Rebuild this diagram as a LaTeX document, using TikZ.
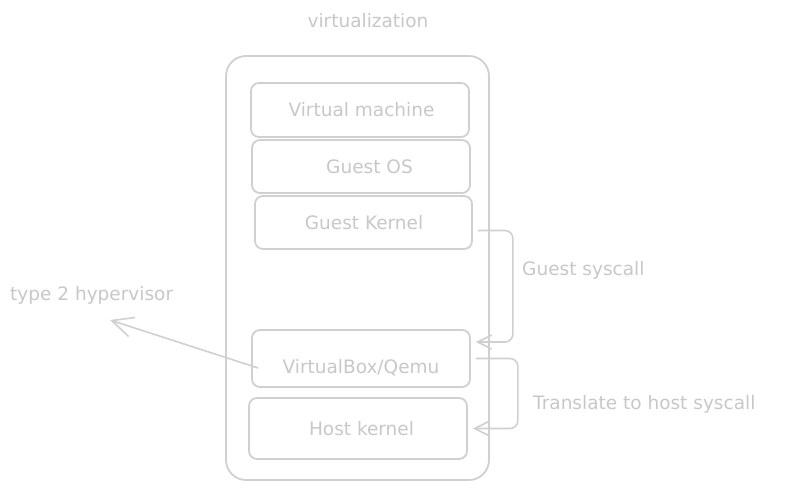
\documentclass[tikz,border=0pt]{standalone}
\usepackage{fontspec}
\setmainfont{DejaVu Sans}
\usetikzlibrary{arrows.meta,calc}
\definecolor{ln}{HTML}{D0D0D0}
\definecolor{tx}{HTML}{C8C8C8}
\begin{document}
\begin{tikzpicture}[x=1pt,y=-1pt,
  box/.style={draw=ln,line width=1.8pt,rounded corners=8pt,inner sep=0pt,text=tx,font=\fontsize{18.5}{21}\selectfont},
  lbl/.style={text=tx,font=\fontsize{18.5}{21}\selectfont,inner sep=0pt},
  arr/.style={draw=ln,line width=1.6pt,rounded corners=8pt,-{Straight Barb[length=14pt,width=14pt,line width=1.6pt]}},
  bigarr/.style={draw=ln,line width=1.6pt,-{Straight Barb[length=21pt,width=20pt,line width=1.6pt]}}]
\useasboundingbox[fill=white] (0,0) rectangle (791,490);
\node[lbl] (title) at (368,21) {virtualization};
\draw[draw=ln,line width=1.8pt,rounded corners=20pt] (226,56) rectangle (489,480);
\node[box,minimum width=218pt,minimum height=54pt] (vm) at (360,110) {\hspace*{3pt}Virtual machine};
\node[box,minimum width=218pt,minimum height=53pt] (os) at (361,166.5) {\hspace*{17pt}Guest OS};
\node[box,minimum width=217pt,minimum height=53pt] (gk) at (363.5,222.5) {\hspace*{1pt}Guest Kernel};
\node[box,minimum width=218pt,minimum height=57pt] (vb) at (361,358.5) {\raisebox{-15pt}[0pt][0pt]{VirtualBox/Qemu}};
\node[box,minimum width=218pt,minimum height=61pt] (hk) at (358,428.5) {\hspace*{7pt}Host kernel};
\node[lbl,anchor=west] (gs) at (522,270) {Guest syscall};
\node[lbl,anchor=west] (th) at (533,404) {Translate to host syscall};
\node[lbl,anchor=west] (t2) at (10,295) {type 2 hypervisor};
\coordinate (t2end) at (110,320);
\draw[arr] ([shift={(5pt,-8pt)}]gk.east) -- ++(35pt,0) |- ([shift={(5pt,16.5pt)}]vb.east);
\draw[arr] ([shift={(5pt,0pt)}]vb.east) -- ++(42pt,0) |- ([shift={(5pt,0pt)}]hk.east);
\draw[bigarr] ([shift={(7pt,-9.5pt)}]vb.west) -- (t2end);
\end{tikzpicture}
\end{document}
